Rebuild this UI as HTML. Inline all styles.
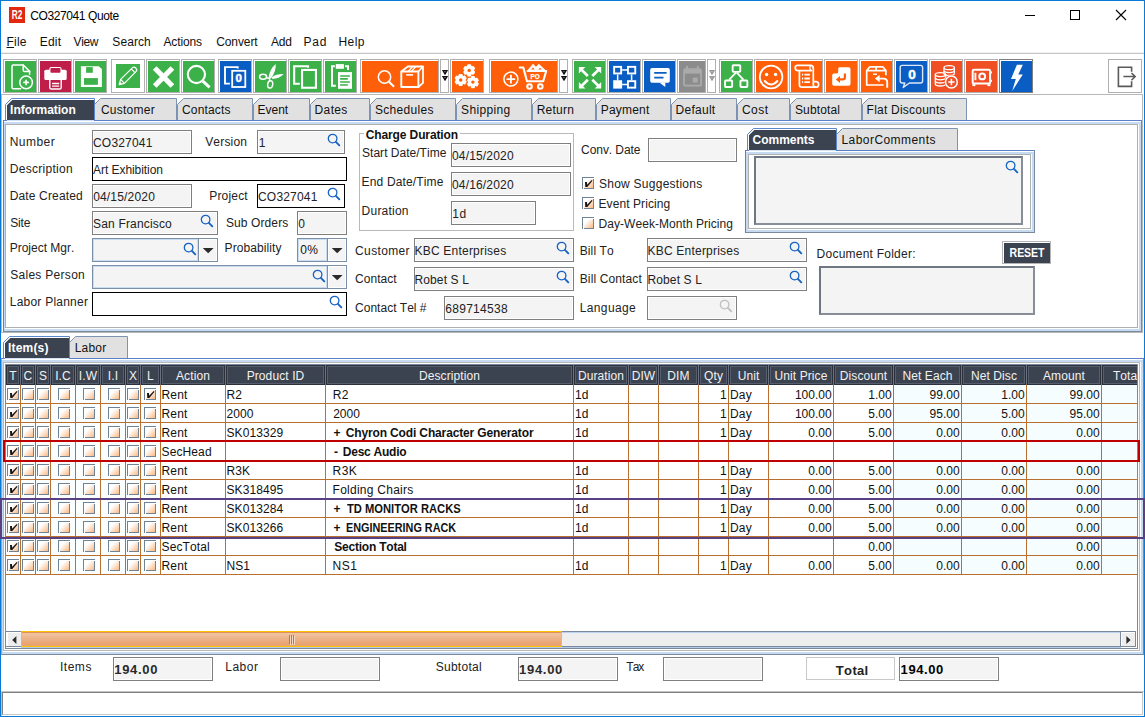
<!DOCTYPE html>
<html lang="en"><head><meta charset="utf-8"><title>CO327041 Quote</title>
<style>
html,body{margin:0;padding:0;background:#fff;}
body{width:1145px;height:717px;overflow:hidden;position:relative;font-family:"Liberation Sans",sans-serif;font-size:12px;color:#1a1a1a;font-kerning:none;}
#win{position:absolute;left:0;top:0;width:1145px;height:717px;overflow:hidden;background:#fff;}
.a{position:absolute;}
.t{position:absolute;white-space:nowrap;line-height:14px;font-size:12px;}
.b{font-weight:bold;}
.f{position:absolute;box-sizing:border-box;height:24px;border:1px solid #7f7f7f;background:#f4f4f4;box-shadow:inset 0 0 0 1px #fff;white-space:nowrap;overflow:hidden;font-size:12px;line-height:14px;color:#222;}
.f span{position:absolute;top:5px;line-height:14px;}
.f.k{border-color:#000;background:#fff;}
.f.c{border-color:#7a8fa8;box-shadow:inset 0 0 0 1px #c9dcf2;}
.f.c span{top:4px;}
.tb{position:absolute;top:59px;width:34px;height:34px;box-sizing:border-box;border:1px solid #b0b0b0;background:#fff;}
.tb i{font-style:normal;position:absolute;left:1px;top:1px;right:0;bottom:0;display:block;}
.tb svg{position:absolute;left:0;top:0;display:block;}
.dd{position:absolute;top:59px;width:9px;height:34px;box-sizing:border-box;border:1px solid #b0b0b0;background:#fff;}
.cb{position:absolute;width:12px;height:12px;box-sizing:border-box;border:0 solid #6f8396;border-top-width:1px;border-left-width:1px;background:linear-gradient(135deg,#ffffff 0%,#ffffff 30%,#fde2cc 56%,#ffab68 100%);box-shadow:inset 1px 1px 0 #fff,inset -1px -1px 0 #6f8396;}
.cb svg{position:absolute;left:-1px;top:-1px;}
.hd{position:absolute;top:0;height:20px;box-sizing:border-box;background:#3c4350;border:1px solid #2b303a;box-shadow:inset 0 0 0 1px #565e6e;color:#f2f2f2;text-align:center;font-size:12px;line-height:14px;padding-top:3px;white-space:nowrap;overflow:hidden;letter-spacing:0.1px;}
.c{position:absolute;white-space:nowrap;font-size:12px;line-height:14px;color:#111;}
</style></head>
<body>
<div id="win">
<div class="a" style="left:9px;top:7px;width:16px;height:16px;background:#e0290f;"></div>
<span class="t b" style="left:5px;top:8px;width:24px;text-align:center;color:#fff;font-size:13px;line-height:14px;transform:scaleX(0.64);">R2</span>
<span class="t" style="left:30.19px;top:9px;letter-spacing:-0.386px;color:#000;">CO327041 Quote</span>
<svg class="a" style="left:1015px;top:0" width="129" height="30" viewBox="0 0 129 30"><g stroke="#000" stroke-width="1" fill="none" shape-rendering="crispEdges"><path d="M10 15.5H20"/><rect x="55.5" y="10.5" width="9" height="9"/></g><path d="M101 10L111 20M111 10L101 20" stroke="#000" stroke-width="1.1" fill="none"/></svg>
<span class="t" style="left:6.52px;top:35px;letter-spacing:0.227px;color:#111;"><u>F</u>ile</span>
<span class="t" style="left:39.72px;top:35px;letter-spacing:0.198px;color:#111;">Edit</span>
<span class="t" style="left:73.55px;top:35px;letter-spacing:-0.362px;color:#111;">View</span>
<span class="t" style="left:112.36px;top:35px;letter-spacing:0.081px;color:#111;">Search</span>
<span class="t" style="left:163.48px;top:35px;letter-spacing:-0.116px;color:#111;">Actions</span>
<span class="t" style="left:216.19px;top:35px;letter-spacing:-0.087px;color:#111;">Convert</span>
<span class="t" style="left:271.08px;top:35px;letter-spacing:-0.277px;color:#111;">Add</span>
<span class="t" style="left:303.62px;top:35px;letter-spacing:0.753px;color:#111;">Pad</span>
<span class="t" style="left:338.52px;top:35px;letter-spacing:0.403px;color:#111;">Help</span>
<div class="a" style="left:1px;top:52px;width:1143px;height:1px;background:#f0f0f0;"></div>
<div class="a" style="left:1px;top:53px;width:1143px;height:1px;background:#c6c6c6;"></div>
<div class="tb" style="left:3px;width:34px;border-color:#b0b0b0"><i style="background:#3cb14a"><svg width="31" height="31" viewBox="0 0 31 31"><g fill="none" stroke="#fff" stroke-width="1.5" stroke-linejoin="round" stroke-linecap="round"><path d="M15.6 27.7H8.2Q7 27.7 7 26.5V5.2Q7 4 8.2 4H18.2L24.6 10.4V13.2"/><path d="M18.2 4V9.2Q18.2 10.4 19.4 10.4H24.6"/><circle cx="21.1" cy="21.4" r="6.3"/><path d="M18.9 21.4H23.3M21.1 19.2V23.6" stroke-width="1.6"/></g></svg></i></div>
<div class="tb" style="left:38px;width:34px;border-color:#b0b0b0"><i style="background:#bf1d4a"><svg width="31" height="31" viewBox="0 0 31 31"><rect x="4.3" y="8.7" width="22.4" height="10.3" rx="1.6" fill="#fff"/><rect x="9.9" y="6.5" width="11.1" height="5.9" rx="1.3" fill="#bf1d4a" stroke="#fff" stroke-width="1.1"/><path d="M9.8 19V26.4Q9.8 28 11.4 28H19.6Q21.2 28 21.2 26.4V19" fill="none" stroke="#fff" stroke-width="1.4"/><path d="M12.1 22.5H19.2M12.1 25.2H19.2" stroke="#fff" stroke-width="1.3"/></svg></i></div>
<div class="tb" style="left:73px;width:34px;border-color:#b0b0b0"><i style="background:#3cb14a"><svg width="31" height="31" viewBox="0 0 31 31"><path d="M5.9 5.2H23.6L26.9 8V26H5.9z" fill="#fff"/><rect x="11.1" y="6.1" width="6.7" height="5.7" fill="#3cb14a"/><rect x="9" y="17.1" width="13.9" height="6.7" fill="#3cb14a"/></svg></i></div>
<div class="tb" style="left:111px;width:34px;border-color:#b0b0b0"><i style="background:#fff"><svg width="31" height="31" viewBox="0 0 31 31"><rect x="3" y="3" width="24" height="24" fill="#3cb14a"/><g fill="none" stroke="#fff" stroke-width="1.2" stroke-linejoin="round"><path d="M6.2 23.6L7.6 18.4L19.6 6.6Q21.2 5.4 22.8 7Q24.4 8.6 23.2 10.4L11.4 22.4z"/><path d="M18.2 7.9L22 11.7"/><path d="M7.6 18.4L11.4 22.4"/></g><path d="M6.1 23.7L6.9 20.8L9 22.9z" fill="#fff"/></svg></i></div>
<div class="tb" style="left:146px;width:34px;border-color:#b0b0b0"><i style="background:#3cb14a"><svg width="31" height="31" viewBox="0 0 31 31"><g fill="none" stroke="#fff" stroke-width="5.2" ><path d="M6.7 7L24.4 25M24.4 7L6.7 25"/></g></svg></i></div>
<div class="tb" style="left:181px;width:34px;border-color:#b0b0b0"><i style="background:#3cb14a"><svg width="31" height="31" viewBox="0 0 31 31"><g fill="none" stroke="#fff" stroke-width="1.5" ><circle cx="13.4" cy="13.5" r="8.6" stroke-width="2.1"/><path d="M19.8 20.2L26.6 26.3" stroke-width="3"/></g></svg></i></div>
<div class="tb" style="left:218px;width:34px;border-color:#b0b0b0"><i style="background:#0a5dc2"><svg width="31" height="31" viewBox="0 0 31 31"><g fill="none" stroke="#fff" stroke-width="1.5" ><path d="M17.7 7.6V6.1H5V22.6H9.9" stroke-width="1.9"/><rect x="12.2" y="9.8" width="13.1" height="16.2" stroke-width="1.8"/></g><text x="18.8" y="21.4" font-family="Liberation Sans, sans-serif" font-size="11.5" font-weight="bold" text-anchor="middle" fill="#fff" stroke="#fff" stroke-width="0.5">0</text></svg></i></div>
<div class="tb" style="left:253px;width:34px;border-color:#b0b0b0"><i style="background:#3cb14a"><svg width="31" height="31" viewBox="0 0 31 31"><path d="M20.7 3Q21.4 9.5 16 17.6L13.5 16.8Q14.8 8 20.7 3z" fill="#fff"/><path d="M28.7 13Q24.2 17.8 17.4 18L16.9 16.2Q21 12.9 28.7 13z" fill="#fff"/><g fill="none" stroke="#fff" stroke-width="1.5" ><ellipse cx="8.1" cy="15.8" rx="3.5" ry="2.5"/><ellipse cx="15.2" cy="23.4" rx="2.5" ry="3.7" transform="rotate(8 15.2 23.4)"/><path d="M11.4 16.6L14.4 17.6L14.9 19.8"/></g></svg></i></div>
<div class="tb" style="left:288px;width:34px;border-color:#b0b0b0"><i style="background:#3cb14a"><svg width="31" height="31" viewBox="0 0 31 31"><g fill="none" stroke="#fff" stroke-width="2.1" ><path d="M18.05 6.8V5.25H4.15V22.75H9.8"/><rect x="12.05" y="8.95" width="13.9" height="17.8"/></g></svg></i></div>
<div class="tb" style="left:323px;width:34px;border-color:#b0b0b0"><i style="background:#3cb14a"><svg width="31" height="31" viewBox="0 0 31 31"><g fill="none" stroke="#fff" stroke-width="2" ><path d="M9.9 5.2H7V24.7H10.8"/><path d="M20 5.2H23V8.9"/></g><rect x="10.8" y="3.1" width="8.1" height="4.7" fill="#fff"/><rect x="13" y="11.1" width="14" height="16.7" fill="#fff"/><path d="M15.1 15H24.9M15.1 17.9H22.8M15.1 21H24.9M15.1 24H22.8" stroke="#3cb14a" stroke-width="1.7"/></svg></i></div>
<div class="tb" style="left:360px;width:79px;border-color:#b0b0b0"><i style="background:#ff5f09"><svg width="76" height="31" viewBox="0 0 76 31"><g fill="none" stroke="#fff" stroke-width="1.5" stroke-linejoin="round"><circle cx="22.5" cy="16" r="6.2" stroke-width="1.5"/><path d="M27 20.7L32 25.8" stroke-width="2.1"/><rect x="39.3" y="10.5" width="17.1" height="15.5" stroke-width="1.9"/><path d="M39.3 10.5L45.8 5.5H61L56.4 10.5M61 5.5V21.9L56.4 26" stroke-width="1.8"/><path d="M46.2 10.5L50.6 5.5M49.4 10.5L53.8 5.5" stroke-width="1.3"/><path d="M44.2 13.9H51.1" stroke-width="1.6"/></g></svg></i></div>
<div class="dd" style="left:440px"><svg class="a" style="left:0;top:10px" width="7" height="12" viewBox="0 0 7 12"><path d="M0.9 0h6.2L4.4 4.8H3.6zM0.9 6h6.2L4.4 10.8H3.6z" fill="#111"/><circle cx="3.9" cy="1.6" r="0.55" fill="#b0b0b0"/><circle cx="3.9" cy="7.6" r="0.55" fill="#b0b0b0"/></svg></div>
<div class="tb" style="left:450px;width:34px;border-color:#b0b0b0"><i style="background:#ff5f09"><svg width="31" height="31" viewBox="0 0 31 31"><rect x="15.2" y="3.3000000000000007" width="4" height="12.2" rx="1" transform="rotate(0 17.2 9.4)" fill="#fff"/><rect x="15.2" y="3.3000000000000007" width="4" height="12.2" rx="1" transform="rotate(60 17.2 9.4)" fill="#fff"/><rect x="15.2" y="3.3000000000000007" width="4" height="12.2" rx="1" transform="rotate(120 17.2 9.4)" fill="#fff"/><circle cx="17.2" cy="9.4" r="4.9" fill="#fff"/><circle cx="17.2" cy="9.4" r="1.7" fill="#ff5f09"/><rect x="6.699999999999999" y="12.9" width="4" height="12.2" rx="1" transform="rotate(0 8.7 19)" fill="#fff"/><rect x="6.699999999999999" y="12.9" width="4" height="12.2" rx="1" transform="rotate(60 8.7 19)" fill="#fff"/><rect x="6.699999999999999" y="12.9" width="4" height="12.2" rx="1" transform="rotate(120 8.7 19)" fill="#fff"/><circle cx="8.7" cy="19" r="4.9" fill="#fff"/><circle cx="8.7" cy="19" r="1.7" fill="#ff5f09"/><rect x="18.9" y="15.000000000000002" width="4" height="12.2" rx="1" transform="rotate(0 20.9 21.1)" fill="#fff"/><rect x="18.9" y="15.000000000000002" width="4" height="12.2" rx="1" transform="rotate(60 20.9 21.1)" fill="#fff"/><rect x="18.9" y="15.000000000000002" width="4" height="12.2" rx="1" transform="rotate(120 20.9 21.1)" fill="#fff"/><circle cx="20.9" cy="21.1" r="4.9" fill="#fff"/><circle cx="20.9" cy="21.1" r="1.7" fill="#ff5f09"/></svg></i></div>
<div class="tb" style="left:489px;width:69px;border-color:#b0b0b0"><i style="background:#ff5f09"><svg width="66" height="31" viewBox="0 0 66 31"><g fill="none" stroke="#fff" stroke-width="1.5" ><circle cx="19.9" cy="18.1" r="7" stroke-width="1.5"/><path d="M15.6 18.1H24.2M19.9 13.8V22.4" stroke-width="1.8"/><path d="M28.7 6.5H32.3L36 20.2H52.2L55.2 10H36.6" stroke-width="2.1" stroke-linejoin="round" stroke-linecap="round"/><circle cx="38.5" cy="25.5" r="2.25" stroke-width="2.1"/><circle cx="49.3" cy="25.5" r="2.25" stroke-width="2.1"/></g><path d="M36.8 9.4L42 3.2L45 6.2L47.8 3.2L54.4 9.4z" fill="#fff" stroke="#fff" stroke-width="0.8" stroke-linejoin="round"/><path d="M40.2 8.6L42 6.6L43.8 8.6zM47.3 8.6L49 6.8L50.7 8.6z" fill="#ff5f09"/><text x="44" y="17.9" font-family="Liberation Sans, sans-serif" font-size="6.3" font-weight="bold" text-anchor="middle" fill="#fff" stroke="#fff" stroke-width="0.25">PO</text></svg></i></div>
<div class="dd" style="left:559px"><svg class="a" style="left:0;top:10px" width="7" height="12" viewBox="0 0 7 12"><path d="M0.9 0h6.2L4.4 4.8H3.6zM0.9 6h6.2L4.4 10.8H3.6z" fill="#111"/><circle cx="3.9" cy="1.6" r="0.55" fill="#b0b0b0"/><circle cx="3.9" cy="7.6" r="0.55" fill="#b0b0b0"/></svg></div>
<div class="tb" style="left:572px;width:34px;border-color:#b0b0b0"><i style="background:#3cb14a"><svg width="31" height="31" viewBox="0 0 31 31"><path d="M4.9 6.1L11.4 6.1L4.9 12.6z" fill="#fff"/><path d="M6.9 8.1L13.8 15.0" stroke="#fff" stroke-width="2.7"/><path d="M27.2 6.1L20.7 6.1L27.2 12.6z" fill="#fff"/><path d="M25.2 8.1L18.299999999999997 15.0" stroke="#fff" stroke-width="2.7"/><path d="M4.9 27.6L11.4 27.6L4.9 21.1z" fill="#fff"/><path d="M6.9 25.6L13.8 18.700000000000003" stroke="#fff" stroke-width="2.7"/><path d="M27.2 27.6L20.7 27.6L27.2 21.1z" fill="#fff"/><path d="M25.2 25.6L18.299999999999997 18.700000000000003" stroke="#fff" stroke-width="2.7"/></svg></i></div>
<div class="tb" style="left:607px;width:34px;border-color:#b0b0b0"><i style="background:#0a5dc2"><svg width="31" height="31" viewBox="0 0 31 31"><g fill="none" stroke="#fff" stroke-width="1.9" ><rect x="5.15" y="5.85" width="7" height="6.6"/><rect x="18.95" y="5.85" width="7.3" height="6.6"/><rect x="18.95" y="20.15" width="7.3" height="6.5"/></g><rect x="4.2" y="19.2" width="8.9" height="8.4" fill="#fff"/><g fill="none" stroke="#fff" stroke-width="1.5" ><path d="M13.1 8.9H18M13.1 23.6H18M8.65 13.4V19.2M22.6 13.4V19.2"/></g></svg></i></div>
<div class="tb" style="left:642px;width:34px;border-color:#b0b0b0"><i style="background:#0a5dc2"><svg width="31" height="31" viewBox="0 0 31 31"><rect x="6.2" y="7.1" width="19.6" height="14.7" rx="1.8" fill="#fff"/><path d="M15.3 21.5L21.3 26V21.5z" fill="#fff"/><path d="M10.2 11.8H22.6M10.2 16.7H19.5" stroke="#0a5dc2" stroke-width="1.7"/></svg></i></div>
<div class="tb" style="left:677px;width:29px;border-color:#b0b0b0"><i style="background:#8c8c8c"><svg width="26" height="31" viewBox="0 0 26 31"><rect x="5" y="8.2" width="17.1" height="16.5" rx="1.8" fill="none" stroke="#aaaaaa" stroke-width="1.8"/><rect x="5" y="8.2" width="17.1" height="4.4" fill="#aaaaaa"/><path d="M8 4.9V8M18.8 4.9V8" stroke="#aaaaaa" stroke-width="1.8"/><rect x="13.7" y="16.6" width="5" height="4.9" fill="#aaaaaa"/></svg></i></div>
<div class="dd" style="left:707px"><svg class="a" style="left:0;top:10px" width="7" height="12" viewBox="0 0 7 12"><path d="M0.9 0h6.2L4.4 4.8H3.6zM0.9 6h6.2L4.4 10.8H3.6z" fill="#9a9a9a"/><circle cx="3.9" cy="1.6" r="0.55" fill="#cfcfcf"/><circle cx="3.9" cy="7.6" r="0.55" fill="#cfcfcf"/></svg></div>
<div class="tb" style="left:719px;width:34px;border-color:#b0b0b0"><i style="background:#3cb14a"><svg width="31" height="31" viewBox="0 0 31 31"><g fill="none" stroke="#fff" stroke-width="1.9" ><rect x="11.65" y="4.25" width="7.6" height="6.6" rx="0.8"/><rect x="4.05" y="19.45" width="7.1" height="6.6" rx="0.8"/><rect x="19.45" y="19.45" width="6.9" height="6.6" rx="0.8"/><path d="M15 11.6L8.2 18.7M15.8 11.6L22.4 18.7" stroke-width="1.7"/></g></svg></i></div>
<div class="tb" style="left:754px;width:34px;border-color:#b0b0b0"><i style="background:#ff5f09"><svg width="31" height="31" viewBox="0 0 31 31"><g fill="none" stroke="#fff" stroke-width="1.5" ><circle cx="15.1" cy="16" r="11.3" stroke-width="1.8"/><path d="M8.7 20Q15.1 27 21.4 20" stroke-width="1.9" stroke-linecap="round"/></g><circle cx="10.6" cy="13.5" r="1.7" fill="#fff"/><circle cx="19.6" cy="13.5" r="1.7" fill="#fff"/></svg></i></div>
<div class="tb" style="left:789px;width:34px;border-color:#b0b0b0"><i style="background:#ff5f09"><svg width="31" height="31" viewBox="0 0 31 31"><g fill="none" stroke="#fff" stroke-width="1.7" stroke-linejoin="round"><path d="M21 9.6H6.6Q4.2 9.6 4.2 6.6Q4.2 4.4 6.6 4.4H19.6Q22.3 4.4 22.3 7.4V20.6"/><path d="M8.4 9.8V23.8Q8.4 26.2 10.8 26.2H25"/><path d="M22.3 20.6H25.2Q27.6 20.9 27.6 23.4Q27.6 26.2 25 26.2Q22.3 26 22.3 23.4V20.6"/><path d="M13.4 13.6H18.9M13.4 17.5H18.9M13.4 21.2H18.9M11 13.6H12.2M11 17.5H12.2M11 21.2H12.2" stroke-width="1.8"/><path d="M19.6 4.4Q18 7 19.8 9.6" stroke-width="1.2"/></g></svg></i></div>
<div class="tb" style="left:824px;width:34px;border-color:#b0b0b0"><i style="background:#ff5f09"><svg width="31" height="31" viewBox="0 0 31 31"><path d="M13.8 6.2H22.7Q24.5 6.2 24.5 8V23Q24.5 24.8 22.7 24.8H8Q6.2 24.8 6.2 23V14.2Q6.2 12.6 7.8 12.6H10.6Q12.2 12.6 12.2 11V7.8Q12.2 6.2 13.8 6.2z" fill="#fff"/><path d="M18.9 12.4V16.2Q18.9 18.4 16.7 18.4H12.6" fill="none" stroke="#ff5f09" stroke-width="2.2"/><path d="M9.8 18.5L14 15V22z" fill="#ff5f09"/></svg></i></div>
<div class="tb" style="left:859px;width:34px;border-color:#b0b0b0"><i style="background:#ff5f09"><svg width="31" height="31" viewBox="0 0 31 31"><g fill="none" stroke="#fff" stroke-width="1.7" ><path d="M22.6 24H5.7V9.6L8.8 5.8H21.8L24.9 9.6V14.3M5.7 9.6H24.9M15.1 5.8V9.6" stroke-linejoin="round"/><path d="M12 13.2H16" stroke-width="1.4"/><path d="M17 17.6H22.6Q26.2 17.6 26.2 21.2V26.8" stroke-width="1.9"/></g><path d="M13.9 17.6L18.6 14V21.2z" fill="#fff"/></svg></i></div>
<div class="tb" style="left:894px;width:34px;border-color:#b0b0b0"><i style="background:#0a5dc2"><svg width="31" height="31" viewBox="0 0 31 31"><path d="M6.2 4.4H24.6Q26.6 4.4 26.6 6.4V20Q26.6 22 24.6 22H13.4L7.2 26.4L8.8 22H6.2Q4.2 22 4.2 20V6.4Q4.2 4.4 6.2 4.4z" fill="none" stroke="#dbe8f8" stroke-width="1.4" stroke-linejoin="round"/><text x="16.1" y="18.3" font-family="Liberation Sans, sans-serif" font-size="13.6" font-weight="bold" text-anchor="middle" fill="#fff" stroke="#fff" stroke-width="0.5">0</text></svg></i></div>
<div class="tb" style="left:929px;width:34px;border-color:#b0b0b0"><i style="background:#f04e23"><svg width="31" height="31" viewBox="0 0 31 31"><g fill="none" stroke="#fff" stroke-width="1.3" ><ellipse cx="18.2" cy="6.7" rx="5.2" ry="2.0"/><path d="M13.0 9.6A5.2 2.0 0 0 0 23.4 9.6"/><path d="M13.0 12.4A5.2 2.0 0 0 0 23.4 12.4"/><path d="M13.0 6.7V12.4M23.4 6.7V12.4"/><ellipse cx="9.5" cy="13.6" rx="5.2" ry="2.0"/><path d="M4.3 16.8A5.2 2.0 0 0 0 14.7 16.8"/><path d="M4.3 20A5.2 2.0 0 0 0 14.7 20"/><path d="M4.3 23A5.2 2.0 0 0 0 14.7 23"/><path d="M4.3 13.6V23M14.7 13.6V23"/></g><circle cx="20.4" cy="21" r="7" fill="#f04e23"/><g fill="none" stroke="#fff" stroke-width="1.5" ><circle cx="20.4" cy="21" r="5.9" stroke-width="1.5"/><path d="M17.2 21H23.6M20.4 17.8V24.2" stroke-width="1.6"/></g></svg></i></div>
<div class="tb" style="left:964px;width:34px;border-color:#b0b0b0"><i style="background:#f04e23"><svg width="31" height="31" viewBox="0 0 31 31"><g fill="none" stroke="#fff" stroke-width="1.5" ><rect x="6.7" y="8.8" width="17.4" height="13.8" rx="1.2" stroke-width="2"/><path d="M9.4 11.8V19.2" stroke-width="1.9"/><circle cx="16.2" cy="15.4" r="2.9" stroke-width="2"/></g><rect x="6.4" y="23.2" width="3" height="1.9" fill="#fff"/><rect x="21.4" y="23.2" width="3" height="1.9" fill="#fff"/><rect x="24.8" y="10.4" width="1.2" height="2" fill="#fff"/><rect x="24.8" y="18.8" width="1.2" height="2" fill="#fff"/></svg></i></div>
<div class="tb" style="left:999px;width:34px;border-color:#7f7f7f"><i style="background:#0a5dc2"><svg width="31" height="31" viewBox="0 0 31 31"><path d="M15.9 3.7H21.8L17.3 13.6H21.8L11.2 30L14.8 18H10z" fill="#fff"/></svg></i></div>
<div class="tb" style="left:1108px;width:34px;border-color:#b0b0b0"><i style="background:#fff"><svg width="31" height="31" viewBox="0 0 31 31"><g fill="none" stroke="#5a5a5a" stroke-width="1.6"><path d="M21.6 10.8V6.3H8.4V25.4H21.6V20.3"/><path d="M13.4 15.6H25M21.5 12L25.2 15.6L21.5 19.2" stroke-width="1.5"/></g></svg></i></div>
<div class="a" style="left:1px;top:94px;width:1142px;height:239px;box-sizing:border-box;border:1px solid #b8b8b8;"></div>
<svg class="a" style="left:0px;top:98px" width="1000" height="23" viewBox="0 0 1000 23"><path d="M94.5 22V6.5L100.5 0.5H176.5V22" fill="#e1e1e1" stroke="#7d93b3" stroke-width="1"/><path d="M177.5 22V6.5L183.5 0.5H252.5V22" fill="#e1e1e1" stroke="#7d93b3" stroke-width="1"/><path d="M253.5 22V6.5L259.5 0.5H309.5V22" fill="#e1e1e1" stroke="#7d93b3" stroke-width="1"/><path d="M310.5 22V6.5L316.5 0.5H369.5V22" fill="#e1e1e1" stroke="#7d93b3" stroke-width="1"/><path d="M370.5 22V6.5L376.5 0.5H455.5V22" fill="#e1e1e1" stroke="#7d93b3" stroke-width="1"/><path d="M456.5 22V6.5L462.5 0.5H531.5V22" fill="#e1e1e1" stroke="#7d93b3" stroke-width="1"/><path d="M532.5 22V6.5L538.5 0.5H595.5V22" fill="#e1e1e1" stroke="#7d93b3" stroke-width="1"/><path d="M596.5 22V6.5L602.5 0.5H670.5V22" fill="#e1e1e1" stroke="#7d93b3" stroke-width="1"/><path d="M671.5 22V6.5L677.5 0.5H736.5V22" fill="#e1e1e1" stroke="#7d93b3" stroke-width="1"/><path d="M737.5 22V6.5L743.5 0.5H789.5V22" fill="#e1e1e1" stroke="#7d93b3" stroke-width="1"/><path d="M790.5 22V6.5L796.5 0.5H861.5V22" fill="#e1e1e1" stroke="#7d93b3" stroke-width="1"/><path d="M862.5 22V6.5L868.5 0.5H966.5V22" fill="#e1e1e1" stroke="#7d93b3" stroke-width="1"/><path d="M5.5 22V6.5L11.5 0.5H94.5V22" fill="#fff" stroke="#5b85cf" stroke-width="1"/><path d="M7 22V7.3L12.3 2H94V22z" fill="#3c4350"/></svg>
<span class="t b" style="left:10.1px;top:103px;letter-spacing:-0.035px;color:#fff;">Information</span>
<span class="t" style="left:100.89px;top:103px;letter-spacing:0.256px;color:#111;">Customer</span>
<span class="t" style="left:181.99px;top:103px;letter-spacing:0.155px;color:#111;">Contacts</span>
<span class="t" style="left:257.62px;top:103px;letter-spacing:-0.053px;color:#111;">Event</span>
<span class="t" style="left:314.62px;top:103px;letter-spacing:0.343px;color:#111;">Dates</span>
<span class="t" style="left:374.96px;top:103px;letter-spacing:0.305px;color:#111;">Schedules</span>
<span class="t" style="left:461.06px;top:103px;letter-spacing:0.33px;color:#111;">Shipping</span>
<span class="t" style="left:536.72px;top:103px;letter-spacing:0.229px;color:#111;">Return</span>
<span class="t" style="left:600.82px;top:103px;letter-spacing:0.186px;color:#111;">Payment</span>
<span class="t" style="left:675.62px;top:103px;letter-spacing:0.258px;color:#111;">Default</span>
<span class="t" style="left:741.99px;top:103px;letter-spacing:0.474px;color:#111;">Cost</span>
<span class="t" style="left:794.96px;top:103px;letter-spacing:0.145px;color:#111;">Subtotal</span>
<span class="t" style="left:866.62px;top:103px;letter-spacing:0.223px;color:#111;">Flat Discounts</span>
<div class="a" style="left:3px;top:120px;width:1139px;height:212px;box-sizing:border-box;border:1px solid #5b7fc8;border-right-color:#7a8a9c;border-bottom-color:#7a8a9c;background:#c6dbf1;box-shadow:inset 0 1px 0 #fff;"></div>
<div class="a" style="left:5px;top:124px;width:1134px;height:205px;background:#fff;"></div>
<div class="a" style="left:5px;top:124px;width:1133px;height:204px;box-sizing:border-box;border:1px solid #b0b0b0;background:#fff;"></div>
<div class="a" style="left:7px;top:120px;width:87px;height:1px;background:#cfe3f8;"></div>
<span class="t" style="left:9.72px;top:135px;letter-spacing:0.461px;color:#222;">Number</span>
<span class="t" style="left:9.72px;top:162px;letter-spacing:0.294px;color:#222;">Description</span>
<span class="t" style="left:9.72px;top:189px;letter-spacing:0.144px;color:#222;">Date Created</span>
<span class="t" style="left:10.16px;top:216px;letter-spacing:-0.167px;color:#222;">Site</span>
<span class="t" style="left:9.72px;top:241px;letter-spacing:-0.009px;color:#222;">Project Mgr.</span>
<span class="t" style="left:10.16px;top:268px;letter-spacing:0.296px;color:#222;">Sales Person</span>
<span class="t" style="left:9.72px;top:295px;letter-spacing:0.233px;color:#222;">Labor Planner</span>
<span class="t" style="left:205.15px;top:135px;letter-spacing:0.191px;color:#222;">Version</span>
<span class="t" style="left:209.22px;top:189px;letter-spacing:0.187px;color:#222;">Project</span>
<span class="t" style="left:225.96px;top:216px;letter-spacing:0.102px;color:#222;">Sub Orders</span>
<span class="t" style="left:224.62px;top:241px;letter-spacing:0.088px;color:#222;">Probability</span>
<span class="t" style="left:362.06px;top:146px;letter-spacing:0.018px;color:#222;">Start Date/Time</span>
<span class="t" style="left:361.62px;top:175px;letter-spacing:0.149px;color:#222;">End Date/Time</span>
<span class="t" style="left:361.62px;top:204px;letter-spacing:0.215px;color:#222;">Duration</span>
<span class="t" style="left:355.09px;top:244px;letter-spacing:0.356px;color:#222;">Customer</span>
<span class="t" style="left:355.09px;top:272px;letter-spacing:0.04px;color:#222;">Contact</span>
<span class="t" style="left:355.09px;top:301px;letter-spacing:0.008px;color:#222;">Contact Tel #</span>
<span class="t" style="left:581.09px;top:143px;letter-spacing:-0.065px;color:#222;">Conv. Date</span>
<span class="t" style="left:579.72px;top:244px;letter-spacing:0.108px;color:#222;">Bill To</span>
<span class="t" style="left:579.72px;top:272px;letter-spacing:0.126px;color:#222;">Bill Contact</span>
<span class="t" style="left:579.72px;top:301px;letter-spacing:0.375px;color:#222;">Language</span>
<span class="t" style="left:598.96px;top:177px;letter-spacing:0.259px;color:#222;">Show Suggestions</span>
<span class="t" style="left:598.52px;top:197px;letter-spacing:0.08px;color:#222;">Event Pricing</span>
<span class="t" style="left:598.52px;top:217px;letter-spacing:0.052px;color:#222;">Day-Week-Month Pricing</span>
<span class="t" style="left:816.62px;top:247px;letter-spacing:0.234px;color:#222;">Document Folder:</span>
<div class="f" style="left:92px;top:130px;width:100px;height:24px;"><span style="left:-0.01px;letter-spacing:0.193px;">CO327041</span></div>
<div class="f" style="left:257px;top:130px;width:88px;height:24px;"><span style="left:0.79px;letter-spacing:0px;">1</span><svg class="a" style="right:3px;top:2px" width="14" height="14" viewBox="0 0 14 14"><circle cx="5.6" cy="5.6" r="4.3" fill="none" stroke="#1763c4" stroke-width="1.3"/><path d="M8.9 8.9L12.3 12.3" stroke="#1763c4" stroke-width="1.9" stroke-linecap="round"/></svg></div>
<div class="f k" style="left:92px;top:157px;width:255px;height:24px;"><span style="left:0.08px;letter-spacing:-0.061px;">Art Exhibition</span></div>
<div class="f" style="left:92px;top:184px;width:100px;height:24px;"><span style="left:0.13px;letter-spacing:0.187px;">04/15/2020</span></div>
<div class="f k" style="left:257px;top:184px;width:88px;height:24px;"><span style="left:-0.01px;letter-spacing:0.193px;">CO327041</span><svg class="a" style="right:3px;top:2px" width="14" height="14" viewBox="0 0 14 14"><circle cx="5.6" cy="5.6" r="4.3" fill="none" stroke="#1763c4" stroke-width="1.3"/><path d="M8.9 8.9L12.3 12.3" stroke="#1763c4" stroke-width="1.9" stroke-linecap="round"/></svg></div>
<div class="f" style="left:92px;top:211px;width:126px;height:24px;"><span style="left:0.06px;letter-spacing:0.171px;">San Francisco</span><svg class="a" style="right:3px;top:2px" width="14" height="14" viewBox="0 0 14 14"><circle cx="5.6" cy="5.6" r="4.3" fill="none" stroke="#1763c4" stroke-width="1.3"/><path d="M8.9 8.9L12.3 12.3" stroke="#1763c4" stroke-width="1.9" stroke-linecap="round"/></svg></div>
<div class="f" style="left:297px;top:211px;width:50px;height:24px;"><span style="left:0.33px;letter-spacing:0px;">0</span></div>
<div class="f c" style="left:92px;top:238px;width:107px;height:24px;"><svg class="a" style="right:1px;top:3px" width="14" height="14" viewBox="0 0 14 14"><circle cx="5.6" cy="5.6" r="4.3" fill="none" stroke="#1763c4" stroke-width="1.3"/><path d="M8.9 8.9L12.3 12.3" stroke="#1763c4" stroke-width="1.9" stroke-linecap="round"/></svg></div>
<div class="f" style="left:198px;top:238px;width:20px;padding:0;border-color:#7a8fa8;background:#f4f4f4"><svg class="a" style="left:4px;top:9px" width="11" height="6" viewBox="0 0 11 6"><path d="M-0.2 0h10.8L5.2 5.3z" fill="#2a2a2a"/></svg></div>
<div class="f c" style="left:297px;top:238px;width:31px;height:24px;"><span style="left:2.23px;letter-spacing:0.253px;">0%</span></div>
<div class="f" style="left:327px;top:238px;width:20px;padding:0;border-color:#7a8fa8;background:#f4f4f4"><svg class="a" style="left:4px;top:9px" width="11" height="6" viewBox="0 0 11 6"><path d="M-0.2 0h10.8L5.2 5.3z" fill="#2a2a2a"/></svg></div>
<div class="f c" style="left:92px;top:265px;width:236px;height:24px;"><svg class="a" style="right:1px;top:3px" width="14" height="14" viewBox="0 0 14 14"><circle cx="5.6" cy="5.6" r="4.3" fill="none" stroke="#1763c4" stroke-width="1.3"/><path d="M8.9 8.9L12.3 12.3" stroke="#1763c4" stroke-width="1.9" stroke-linecap="round"/></svg></div>
<div class="f" style="left:327px;top:265px;width:20px;padding:0;border-color:#7a8fa8;background:#f4f4f4"><svg class="a" style="left:4px;top:9px" width="11" height="6" viewBox="0 0 11 6"><path d="M-0.2 0h10.8L5.2 5.3z" fill="#2a2a2a"/></svg></div>
<div class="f k" style="left:92px;top:292px;width:255px;height:24px;"><svg class="a" style="right:3px;top:2px" width="14" height="14" viewBox="0 0 14 14"><circle cx="5.6" cy="5.6" r="4.3" fill="none" stroke="#1763c4" stroke-width="1.3"/><path d="M8.9 8.9L12.3 12.3" stroke="#1763c4" stroke-width="1.9" stroke-linecap="round"/></svg></div>
<div class="a" style="left:359px;top:133px;width:215px;height:98px;box-sizing:border-box;border:1px solid #b9b9b9;"></div>
<div class="a" style="left:364px;top:130px;width:96px;height:8px;background:#fff;"></div>
<span class="t b" style="left:365.71px;top:128px;letter-spacing:-0.112px;color:#111;">Charge Duration</span>
<div class="f" style="left:451px;top:143px;width:120px;height:24px;"><span style="left:0.03px;letter-spacing:0.164px;">04/15/2020</span></div>
<div class="f" style="left:451px;top:172px;width:120px;height:24px;"><span style="left:0.03px;letter-spacing:0.164px;">04/16/2020</span></div>
<div class="f" style="left:451px;top:201px;width:85px;height:24px;"><span style="left:0.29px;letter-spacing:0.44px;">1d</span></div>
<div class="f" style="left:414px;top:238px;width:160px;height:24px;"><span style="left:-0.58px;letter-spacing:0.223px;">KBC Enterprises</span><svg class="a" style="right:3px;top:2px" width="14" height="14" viewBox="0 0 14 14"><circle cx="5.6" cy="5.6" r="4.3" fill="none" stroke="#1763c4" stroke-width="1.3"/><path d="M8.9 8.9L12.3 12.3" stroke="#1763c4" stroke-width="1.9" stroke-linecap="round"/></svg></div>
<div class="f" style="left:414px;top:267px;width:160px;height:24px;"><span style="left:-0.58px;letter-spacing:0.139px;">Robet S L</span><svg class="a" style="right:3px;top:2px" width="14" height="14" viewBox="0 0 14 14"><circle cx="5.6" cy="5.6" r="4.3" fill="none" stroke="#1763c4" stroke-width="1.3"/><path d="M8.9 8.9L12.3 12.3" stroke="#1763c4" stroke-width="1.9" stroke-linecap="round"/></svg></div>
<div class="f" style="left:444px;top:296px;width:130px;height:24px;"><span style="left:0.19px;letter-spacing:0.308px;">689714538</span></div>
<div class="f" style="left:648px;top:138px;width:89px;height:24px;"></div>
<div class="f" style="left:647px;top:238px;width:160px;height:24px;"><span style="left:-0.58px;letter-spacing:0.223px;">KBC Enterprises</span><svg class="a" style="right:3px;top:2px" width="14" height="14" viewBox="0 0 14 14"><circle cx="5.6" cy="5.6" r="4.3" fill="none" stroke="#1763c4" stroke-width="1.3"/><path d="M8.9 8.9L12.3 12.3" stroke="#1763c4" stroke-width="1.9" stroke-linecap="round"/></svg></div>
<div class="f" style="left:647px;top:267px;width:160px;height:24px;"><span style="left:-0.58px;letter-spacing:0.139px;">Robet S L</span><svg class="a" style="right:3px;top:2px" width="14" height="14" viewBox="0 0 14 14"><circle cx="5.6" cy="5.6" r="4.3" fill="none" stroke="#1763c4" stroke-width="1.3"/><path d="M8.9 8.9L12.3 12.3" stroke="#1763c4" stroke-width="1.9" stroke-linecap="round"/></svg></div>
<div class="f" style="left:647px;top:296px;width:90px;height:24px;"><svg class="a" style="right:3px;top:2px" width="14" height="14" viewBox="0 0 14 14"><circle cx="5.6" cy="5.6" r="4.3" fill="none" stroke="#c0c0c0" stroke-width="1.3"/><path d="M8.9 8.9L12.3 12.3" stroke="#c0c0c0" stroke-width="1.9" stroke-linecap="round"/></svg></div>
<div class="cb" style="left:582px;top:177px"><svg width="12" height="12" viewBox="0 0 12 12"><path d="M3.0 5.0L4.9 5.0L5.2 7.8L9.7 2.9L10.5 3.7L5.3 10.1L3.3 10.1z" fill="#141414"/></svg></div>
<div class="cb" style="left:582px;top:197px"><svg width="12" height="12" viewBox="0 0 12 12"><path d="M3.0 5.0L4.9 5.0L5.2 7.8L9.7 2.9L10.5 3.7L5.3 10.1L3.3 10.1z" fill="#141414"/></svg></div>
<div class="cb" style="left:582px;top:217px"></div>
<svg class="a" style="left:745px;top:128px" width="220" height="23" viewBox="0 0 220 23"><path d="M91.5 22V6.5L97.5 0.5H212.5V22" fill="#e1e1e1" stroke="#7d93b3" stroke-width="1"/><path d="M2.5 22V6.5L8.5 0.5H91.5V22" fill="#fff" stroke="#5b85cf" stroke-width="1"/><path d="M4 22V7.3L9.3 2H91V22z" fill="#3c4350"/></svg>
<span class="t b" style="left:752.51px;top:133px;letter-spacing:-0.004px;color:#fff;">Comments</span>
<span class="t" style="left:841.52px;top:133px;letter-spacing:0.434px;color:#111;">LaborComments</span>
<div class="a" style="left:745px;top:150px;width:290px;height:83px;box-sizing:border-box;border:1px solid #5b7fc8;border-right-color:#7a8a9c;border-bottom-color:#7a8a9c;background:#c6dbf1;box-shadow:inset 0 1px 0 #fff;"></div>
<div class="a" style="left:748px;top:154px;width:284px;height:76px;background:#fff;"></div>
<div class="a" style="left:748px;top:154px;width:283px;height:75px;box-sizing:border-box;border:1px solid #b0b0b0;background:#fff;"></div>
<div class="a" style="left:749px;top:150px;width:87px;height:1px;background:#cfe3f8;"></div>
<div class="a" style="left:754px;top:156px;width:269px;height:69px;box-sizing:border-box;border:2px solid #6f7782;border-right-color:#878e98;border-bottom-color:#878e98;background:#f4f4f4;"><svg class="a" style="right:2px;top:2px" width="14" height="14" viewBox="0 0 14 14"><circle cx="5.6" cy="5.6" r="4.3" fill="none" stroke="#1763c4" stroke-width="1.3"/><path d="M8.9 8.9L12.3 12.3" stroke="#1763c4" stroke-width="1.9" stroke-linecap="round"/></svg></div>
<div class="a" style="left:1002px;top:241px;width:49px;height:23px;box-sizing:border-box;border:1px solid #b4b4b4;background:#fff;"></div>
<div class="a" style="left:1004px;top:243px;width:46px;height:20px;background:#3c4350;"></div>
<span class="t b" style="left:1004px;top:246px;width:46px;text-align:center;color:#fff;font-size:12px;transform:scaleX(0.88);letter-spacing:-0.1px;">RESET</span>
<div class="a" style="left:819px;top:266px;width:216px;height:49px;box-sizing:border-box;border:2px solid #6f7782;border-right-color:#878e98;border-bottom-color:#878e98;background:#f4f4f4;"></div>
<svg class="a" style="left:0px;top:336px" width="140" height="23" viewBox="0 0 140 23"><path d="M69.5 22V6.5L75.5 0.5H127.5V22" fill="#e1e1e1" stroke="#7d93b3" stroke-width="1"/><path d="M3.5 22V6.5L9.5 0.5H69.5V22" fill="#fff" stroke="#5b85cf" stroke-width="1"/><path d="M5 22V7.3L10.3 2H69V22z" fill="#3c4350"/></svg>
<span class="t b" style="left:8.1px;top:341px;letter-spacing:0.16px;color:#fff;">Item(s)</span>
<span class="t" style="left:74.72px;top:341px;letter-spacing:0.198px;color:#111;">Labor</span>
<div class="a" style="left:1px;top:358px;width:1143px;height:297px;box-sizing:border-box;border:1px solid #5b7fc8;border-left-color:#7fa6e0;border-right-color:#7a8a9c;border-bottom-color:#7a8a9c;background:#c6dbf1;box-shadow:inset 0 1px 0 #fff;"></div>
<div class="a" style="left:3px;top:362px;width:1138px;height:290px;background:#fff;"></div>
<div class="a" style="left:3px;top:362px;width:1137px;height:289px;box-sizing:border-box;border:1px solid #b8b8b8;background:#fff;"></div>
<div class="a" style="left:5px;top:364px;width:1133px;height:285px;box-sizing:border-box;border:1px solid #7a8a9c;background:#fff;"></div>
<div class="a" style="left:5px;top:358px;width:64px;height:1px;background:#cfe3f8;"></div>
<div class="a" id="tbl" style="left:6px;top:365px;width:1131px;height:266px;overflow:hidden;">
<div class="a" style="left:0;top:0;width:1131px;height:20px;background:#6a7282;"></div>
<div class="a" style="left:0;top:20px;width:1131px;height:190px;background:#ffffff;"></div>
<div class="a" style="left:15px;top:20px;width:140px;height:190px;background:#fafeff;"></div>
<div class="a" style="left:888px;top:20px;width:243px;height:190px;background:#f6fdff;"></div>
<div class="hd" style="left:0px;width:14px">T</div>
<div class="a" style="left:14px;top:20px;width:1px;height:190px;background:#b9702f;"></div>
<div class="hd" style="left:15px;width:14px">C</div>
<div class="a" style="left:29px;top:20px;width:1px;height:190px;background:#b9702f;"></div>
<div class="hd" style="left:30px;width:14px">S</div>
<div class="a" style="left:44px;top:20px;width:1px;height:190px;background:#b9702f;"></div>
<div class="hd" style="left:45px;width:24px">I.C</div>
<div class="a" style="left:69px;top:20px;width:1px;height:190px;background:#b9702f;"></div>
<div class="hd" style="left:70px;width:24px">I.W</div>
<div class="a" style="left:94px;top:20px;width:1px;height:190px;background:#b9702f;"></div>
<div class="hd" style="left:95px;width:24px">I.I</div>
<div class="a" style="left:119px;top:20px;width:1px;height:190px;background:#b9702f;"></div>
<div class="hd" style="left:120px;width:14px">X</div>
<div class="a" style="left:134px;top:20px;width:1px;height:190px;background:#b9702f;"></div>
<div class="hd" style="left:135px;width:19px">L</div>
<div class="a" style="left:154px;top:20px;width:1px;height:190px;background:#b9702f;"></div>
<div class="hd" style="left:155px;width:64px">Action</div>
<div class="a" style="left:219px;top:20px;width:1px;height:190px;background:#b9702f;"></div>
<div class="hd" style="left:220px;width:99px">Product ID</div>
<div class="a" style="left:319px;top:20px;width:1px;height:190px;background:#b9702f;"></div>
<div class="hd" style="left:320px;width:247px">Description</div>
<div class="a" style="left:567px;top:20px;width:1px;height:190px;background:#b9702f;"></div>
<div class="hd" style="left:568px;width:54px">Duration</div>
<div class="a" style="left:622px;top:20px;width:1px;height:190px;background:#b9702f;"></div>
<div class="hd" style="left:623px;width:29px">DIW</div>
<div class="a" style="left:652px;top:20px;width:1px;height:190px;background:#b9702f;"></div>
<div class="hd" style="left:653px;width:39px">DIM</div>
<div class="a" style="left:692px;top:20px;width:1px;height:190px;background:#b9702f;"></div>
<div class="hd" style="left:693px;width:29px">Qty</div>
<div class="a" style="left:722px;top:20px;width:1px;height:190px;background:#b9702f;"></div>
<div class="hd" style="left:723px;width:39px">Unit</div>
<div class="a" style="left:762px;top:20px;width:1px;height:190px;background:#b9702f;"></div>
<div class="hd" style="left:763px;width:64px">Unit Price</div>
<div class="a" style="left:827px;top:20px;width:1px;height:190px;background:#b9702f;"></div>
<div class="hd" style="left:828px;width:59px">Discount</div>
<div class="a" style="left:887px;top:20px;width:1px;height:190px;background:#b9702f;"></div>
<div class="hd" style="left:888px;width:67px">Net Each</div>
<div class="a" style="left:955px;top:20px;width:1px;height:190px;background:#b9702f;"></div>
<div class="hd" style="left:956px;width:64px">Net Disc</div>
<div class="a" style="left:1020px;top:20px;width:1px;height:190px;background:#b9702f;"></div>
<div class="hd" style="left:1021px;width:74px">Amount</div>
<div class="a" style="left:1095px;top:20px;width:1px;height:190px;background:#b9702f;"></div>
<div class="hd" style="left:1096px;width:49px">Total</div>
<div class="a" style="left:1145px;top:20px;width:1px;height:190px;background:#b9702f;"></div>
<div class="a" style="left:0;top:38px;width:1131px;height:1px;background:#b9702f;"></div>
<div class="cb" style="left:1px;top:23px"><svg width="12" height="12" viewBox="0 0 12 12"><path d="M3.0 5.0L4.9 5.0L5.2 7.8L9.7 2.9L10.5 3.7L5.3 10.1L3.3 10.1z" fill="#141414"/></svg></div>
<div class="cb" style="left:16px;top:23px"></div>
<div class="cb" style="left:31px;top:23px"></div>
<div class="cb" style="left:52px;top:23px"></div>
<div class="cb" style="left:77px;top:23px"></div>
<div class="cb" style="left:102px;top:23px"></div>
<div class="cb" style="left:121px;top:23px"></div>
<div class="cb" style="left:138px;top:23px"><svg width="12" height="12" viewBox="0 0 12 12"><path d="M3.0 5.0L4.9 5.0L5.2 7.8L9.7 2.9L10.5 3.7L5.3 10.1L3.3 10.1z" fill="#141414"/></svg></div>
<span class="c" style="left:155.6px;top:23px;letter-spacing:0.1px;">Rent</span>
<span class="c" style="left:220.5px;top:23px;letter-spacing:0.1px;">R2</span>
<span class="c" style="left:326.82px;top:23px;letter-spacing:0.248px;">R2</span>
<span class="c" style="left:569.0px;top:23px;letter-spacing:0.2px;">1d</span>
<span class="c" style="left:693px;width:27.6px;text-align:right;top:23px;">1</span>
<span class="c" style="left:724.0px;top:23px;letter-spacing:0.2px;">Day</span>
<span class="c" style="left:763px;width:62.6px;text-align:right;top:23px;">100.00</span>
<span class="c" style="left:828px;width:57.6px;text-align:right;top:23px;">1.00</span>
<span class="c" style="left:888px;width:65.6px;text-align:right;top:23px;">99.00</span>
<span class="c" style="left:956px;width:62.6px;text-align:right;top:23px;">1.00</span>
<span class="c" style="left:1021px;width:72.6px;text-align:right;top:23px;">99.00</span>
<div class="a" style="left:0;top:57px;width:1131px;height:1px;background:#b9702f;"></div>
<div class="cb" style="left:1px;top:42px"><svg width="12" height="12" viewBox="0 0 12 12"><path d="M3.0 5.0L4.9 5.0L5.2 7.8L9.7 2.9L10.5 3.7L5.3 10.1L3.3 10.1z" fill="#141414"/></svg></div>
<div class="cb" style="left:16px;top:42px"></div>
<div class="cb" style="left:31px;top:42px"></div>
<div class="cb" style="left:52px;top:42px"></div>
<div class="cb" style="left:77px;top:42px"></div>
<div class="cb" style="left:102px;top:42px"></div>
<div class="cb" style="left:121px;top:42px"></div>
<div class="cb" style="left:138px;top:42px"></div>
<span class="c" style="left:155.6px;top:42px;letter-spacing:0.1px;">Rent</span>
<span class="c" style="left:220.5px;top:42px;letter-spacing:0.1px;">2000</span>
<span class="c" style="left:327.2px;top:42px;letter-spacing:-0.008px;">2000</span>
<span class="c" style="left:569.0px;top:42px;letter-spacing:0.2px;">1d</span>
<span class="c" style="left:693px;width:27.6px;text-align:right;top:42px;">1</span>
<span class="c" style="left:724.0px;top:42px;letter-spacing:0.2px;">Day</span>
<span class="c" style="left:763px;width:62.6px;text-align:right;top:42px;">100.00</span>
<span class="c" style="left:828px;width:57.6px;text-align:right;top:42px;">5.00</span>
<span class="c" style="left:888px;width:65.6px;text-align:right;top:42px;">95.00</span>
<span class="c" style="left:956px;width:62.6px;text-align:right;top:42px;">5.00</span>
<span class="c" style="left:1021px;width:72.6px;text-align:right;top:42px;">95.00</span>
<div class="a" style="left:0;top:76px;width:1131px;height:1px;background:#b9702f;"></div>
<div class="cb" style="left:1px;top:61px"><svg width="12" height="12" viewBox="0 0 12 12"><path d="M3.0 5.0L4.9 5.0L5.2 7.8L9.7 2.9L10.5 3.7L5.3 10.1L3.3 10.1z" fill="#141414"/></svg></div>
<div class="cb" style="left:16px;top:61px"></div>
<div class="cb" style="left:31px;top:61px"></div>
<div class="cb" style="left:52px;top:61px"></div>
<div class="cb" style="left:77px;top:61px"></div>
<div class="cb" style="left:102px;top:61px"></div>
<div class="cb" style="left:121px;top:61px"></div>
<div class="cb" style="left:138px;top:61px"></div>
<span class="c" style="left:155.6px;top:61px;letter-spacing:0.1px;">Rent</span>
<span class="c" style="left:220.5px;top:61px;letter-spacing:0.1px;">SK013329</span>
<span class="c" style="left:339.71px;top:61px;letter-spacing:-0.139px;font-weight:bold;">Chyron Codi Character Generator</span>
<span class="c" style="left:327.4px;top:61px;font-weight:bold;">+</span>
<span class="c" style="left:569.0px;top:61px;letter-spacing:0.2px;">1d</span>
<span class="c" style="left:693px;width:27.6px;text-align:right;top:61px;">1</span>
<span class="c" style="left:724.0px;top:61px;letter-spacing:0.2px;">Day</span>
<span class="c" style="left:763px;width:62.6px;text-align:right;top:61px;">0.00</span>
<span class="c" style="left:828px;width:57.6px;text-align:right;top:61px;">5.00</span>
<span class="c" style="left:888px;width:65.6px;text-align:right;top:61px;">0.00</span>
<span class="c" style="left:956px;width:62.6px;text-align:right;top:61px;">0.00</span>
<span class="c" style="left:1021px;width:72.6px;text-align:right;top:61px;">0.00</span>
<div class="a" style="left:0;top:95px;width:1131px;height:1px;background:#b9702f;"></div>
<div class="cb" style="left:1px;top:80px"><svg width="12" height="12" viewBox="0 0 12 12"><path d="M3.0 5.0L4.9 5.0L5.2 7.8L9.7 2.9L10.5 3.7L5.3 10.1L3.3 10.1z" fill="#141414"/></svg></div>
<div class="cb" style="left:16px;top:80px"></div>
<div class="cb" style="left:31px;top:80px"></div>
<div class="cb" style="left:52px;top:80px"></div>
<div class="cb" style="left:77px;top:80px"></div>
<div class="cb" style="left:102px;top:80px"></div>
<div class="cb" style="left:121px;top:80px"></div>
<div class="cb" style="left:138px;top:80px"></div>
<span class="c" style="left:155.6px;top:80px;letter-spacing:0.1px;">SecHead</span>
<span class="c" style="left:336.8px;top:80px;letter-spacing:-0.249px;font-weight:bold;">Desc Audio</span>
<span class="c" style="left:328.0px;top:80px;font-weight:bold;">-</span>
<div class="a" style="left:0;top:114px;width:1131px;height:1px;background:#b9702f;"></div>
<div class="cb" style="left:1px;top:99px"><svg width="12" height="12" viewBox="0 0 12 12"><path d="M3.0 5.0L4.9 5.0L5.2 7.8L9.7 2.9L10.5 3.7L5.3 10.1L3.3 10.1z" fill="#141414"/></svg></div>
<div class="cb" style="left:16px;top:99px"></div>
<div class="cb" style="left:31px;top:99px"></div>
<div class="cb" style="left:52px;top:99px"></div>
<div class="cb" style="left:77px;top:99px"></div>
<div class="cb" style="left:102px;top:99px"></div>
<div class="cb" style="left:121px;top:99px"></div>
<div class="cb" style="left:138px;top:99px"></div>
<span class="c" style="left:155.6px;top:99px;letter-spacing:0.1px;">Rent</span>
<span class="c" style="left:220.5px;top:99px;letter-spacing:0.1px;">R3K</span>
<span class="c" style="left:326.62px;top:99px;letter-spacing:0.438px;">R3K</span>
<span class="c" style="left:569.0px;top:99px;letter-spacing:0.2px;">1d</span>
<span class="c" style="left:693px;width:27.6px;text-align:right;top:99px;">1</span>
<span class="c" style="left:724.0px;top:99px;letter-spacing:0.2px;">Day</span>
<span class="c" style="left:763px;width:62.6px;text-align:right;top:99px;">0.00</span>
<span class="c" style="left:828px;width:57.6px;text-align:right;top:99px;">5.00</span>
<span class="c" style="left:888px;width:65.6px;text-align:right;top:99px;">0.00</span>
<span class="c" style="left:956px;width:62.6px;text-align:right;top:99px;">0.00</span>
<span class="c" style="left:1021px;width:72.6px;text-align:right;top:99px;">0.00</span>
<div class="a" style="left:0;top:133px;width:1131px;height:1px;background:#b9702f;"></div>
<div class="cb" style="left:1px;top:118px"><svg width="12" height="12" viewBox="0 0 12 12"><path d="M3.0 5.0L4.9 5.0L5.2 7.8L9.7 2.9L10.5 3.7L5.3 10.1L3.3 10.1z" fill="#141414"/></svg></div>
<div class="cb" style="left:16px;top:118px"></div>
<div class="cb" style="left:31px;top:118px"></div>
<div class="cb" style="left:52px;top:118px"></div>
<div class="cb" style="left:77px;top:118px"></div>
<div class="cb" style="left:102px;top:118px"></div>
<div class="cb" style="left:121px;top:118px"></div>
<div class="cb" style="left:138px;top:118px"></div>
<span class="c" style="left:155.6px;top:118px;letter-spacing:0.1px;">Rent</span>
<span class="c" style="left:220.5px;top:118px;letter-spacing:0.1px;">SK318495</span>
<span class="c" style="left:326.62px;top:118px;letter-spacing:0.25px;">Folding Chairs</span>
<span class="c" style="left:569.0px;top:118px;letter-spacing:0.2px;">1d</span>
<span class="c" style="left:693px;width:27.6px;text-align:right;top:118px;">1</span>
<span class="c" style="left:724.0px;top:118px;letter-spacing:0.2px;">Day</span>
<span class="c" style="left:763px;width:62.6px;text-align:right;top:118px;">0.00</span>
<span class="c" style="left:828px;width:57.6px;text-align:right;top:118px;">5.00</span>
<span class="c" style="left:888px;width:65.6px;text-align:right;top:118px;">0.00</span>
<span class="c" style="left:956px;width:62.6px;text-align:right;top:118px;">0.00</span>
<span class="c" style="left:1021px;width:72.6px;text-align:right;top:118px;">0.00</span>
<div class="a" style="left:0;top:152px;width:1131px;height:1px;background:#b9702f;"></div>
<div class="cb" style="left:1px;top:137px"><svg width="12" height="12" viewBox="0 0 12 12"><path d="M3.0 5.0L4.9 5.0L5.2 7.8L9.7 2.9L10.5 3.7L5.3 10.1L3.3 10.1z" fill="#141414"/></svg></div>
<div class="cb" style="left:16px;top:137px"></div>
<div class="cb" style="left:31px;top:137px"></div>
<div class="cb" style="left:52px;top:137px"></div>
<div class="cb" style="left:77px;top:137px"></div>
<div class="cb" style="left:102px;top:137px"></div>
<div class="cb" style="left:121px;top:137px"></div>
<div class="cb" style="left:138px;top:137px"></div>
<span class="c" style="left:155.6px;top:137px;letter-spacing:0.1px;">Rent</span>
<span class="c" style="left:220.5px;top:137px;letter-spacing:0.1px;">SK013284</span>
<span class="c" style="left:340.67px;top:137px;transform:scaleX(0.932);transform-origin:0 0;font-weight:bold;">TD MONITOR RACKS</span>
<span class="c" style="left:327.4px;top:137px;font-weight:bold;">+</span>
<span class="c" style="left:569.0px;top:137px;letter-spacing:0.2px;">1d</span>
<span class="c" style="left:693px;width:27.6px;text-align:right;top:137px;">1</span>
<span class="c" style="left:724.0px;top:137px;letter-spacing:0.2px;">Day</span>
<span class="c" style="left:763px;width:62.6px;text-align:right;top:137px;">0.00</span>
<span class="c" style="left:828px;width:57.6px;text-align:right;top:137px;">5.00</span>
<span class="c" style="left:888px;width:65.6px;text-align:right;top:137px;">0.00</span>
<span class="c" style="left:956px;width:62.6px;text-align:right;top:137px;">0.00</span>
<span class="c" style="left:1021px;width:72.6px;text-align:right;top:137px;">0.00</span>
<div class="a" style="left:0;top:171px;width:1131px;height:1px;background:#b9702f;"></div>
<div class="cb" style="left:1px;top:156px"><svg width="12" height="12" viewBox="0 0 12 12"><path d="M3.0 5.0L4.9 5.0L5.2 7.8L9.7 2.9L10.5 3.7L5.3 10.1L3.3 10.1z" fill="#141414"/></svg></div>
<div class="cb" style="left:16px;top:156px"></div>
<div class="cb" style="left:31px;top:156px"></div>
<div class="cb" style="left:52px;top:156px"></div>
<div class="cb" style="left:77px;top:156px"></div>
<div class="cb" style="left:102px;top:156px"></div>
<div class="cb" style="left:121px;top:156px"></div>
<div class="cb" style="left:138px;top:156px"></div>
<span class="c" style="left:155.6px;top:156px;letter-spacing:0.1px;">Rent</span>
<span class="c" style="left:220.5px;top:156px;letter-spacing:0.1px;">SK013266</span>
<span class="c" style="left:340.08px;top:156px;transform:scaleX(0.9023);transform-origin:0 0;font-weight:bold;">ENGINEERING RACK</span>
<span class="c" style="left:327.4px;top:156px;font-weight:bold;">+</span>
<span class="c" style="left:569.0px;top:156px;letter-spacing:0.2px;">1d</span>
<span class="c" style="left:693px;width:27.6px;text-align:right;top:156px;">1</span>
<span class="c" style="left:724.0px;top:156px;letter-spacing:0.2px;">Day</span>
<span class="c" style="left:763px;width:62.6px;text-align:right;top:156px;">0.00</span>
<span class="c" style="left:828px;width:57.6px;text-align:right;top:156px;">5.00</span>
<span class="c" style="left:888px;width:65.6px;text-align:right;top:156px;">0.00</span>
<span class="c" style="left:956px;width:62.6px;text-align:right;top:156px;">0.00</span>
<span class="c" style="left:1021px;width:72.6px;text-align:right;top:156px;">0.00</span>
<div class="a" style="left:0;top:190px;width:1131px;height:1px;background:#b9702f;"></div>
<div class="cb" style="left:1px;top:175px"><svg width="12" height="12" viewBox="0 0 12 12"><path d="M3.0 5.0L4.9 5.0L5.2 7.8L9.7 2.9L10.5 3.7L5.3 10.1L3.3 10.1z" fill="#141414"/></svg></div>
<div class="cb" style="left:16px;top:175px"></div>
<div class="cb" style="left:31px;top:175px"></div>
<div class="cb" style="left:52px;top:175px"></div>
<div class="cb" style="left:77px;top:175px"></div>
<div class="cb" style="left:102px;top:175px"></div>
<div class="cb" style="left:121px;top:175px"></div>
<div class="cb" style="left:138px;top:175px"></div>
<span class="c" style="left:155.6px;top:175px;letter-spacing:0.1px;">SecTotal</span>
<span class="c" style="left:328.25px;top:175px;letter-spacing:-0.22px;font-weight:bold;">Section Total</span>
<span class="c" style="left:828px;width:57.6px;text-align:right;top:175px;">0.00</span>
<span class="c" style="left:1021px;width:72.6px;text-align:right;top:175px;">0.00</span>
<div class="a" style="left:0;top:209px;width:1131px;height:1px;background:#b9702f;"></div>
<div class="cb" style="left:1px;top:194px"><svg width="12" height="12" viewBox="0 0 12 12"><path d="M3.0 5.0L4.9 5.0L5.2 7.8L9.7 2.9L10.5 3.7L5.3 10.1L3.3 10.1z" fill="#141414"/></svg></div>
<div class="cb" style="left:16px;top:194px"></div>
<div class="cb" style="left:31px;top:194px"></div>
<div class="cb" style="left:52px;top:194px"></div>
<div class="cb" style="left:77px;top:194px"></div>
<div class="cb" style="left:102px;top:194px"></div>
<div class="cb" style="left:121px;top:194px"></div>
<div class="cb" style="left:138px;top:194px"></div>
<span class="c" style="left:155.6px;top:194px;letter-spacing:0.1px;">Rent</span>
<span class="c" style="left:220.5px;top:194px;letter-spacing:0.1px;">NS1</span>
<span class="c" style="left:326.62px;top:194px;letter-spacing:0.513px;">NS1</span>
<span class="c" style="left:569.0px;top:194px;letter-spacing:0.2px;">1d</span>
<span class="c" style="left:693px;width:27.6px;text-align:right;top:194px;">1</span>
<span class="c" style="left:724.0px;top:194px;letter-spacing:0.2px;">Day</span>
<span class="c" style="left:763px;width:62.6px;text-align:right;top:194px;">0.00</span>
<span class="c" style="left:828px;width:57.6px;text-align:right;top:194px;">5.00</span>
<span class="c" style="left:888px;width:65.6px;text-align:right;top:194px;">0.00</span>
<span class="c" style="left:956px;width:62.6px;text-align:right;top:194px;">0.00</span>
<span class="c" style="left:1021px;width:72.6px;text-align:right;top:194px;">0.00</span>
</div>
<div class="a" style="left:3px;top:440px;width:1137px;height:22px;box-sizing:border-box;border:2px solid #c00000;"></div>
<div class="a" style="left:6px;top:631px;width:1130px;height:16px;background:#eeeeee;box-sizing:border-box;border:1px solid #7a8a9c;box-shadow:inset 0 1px 0 #bcd2ee;"></div>
<div class="a" style="left:21px;top:647px;width:1100px;height:1px;background:#b4cce8;"></div>
<div class="a" style="left:6px;top:631px;width:15px;height:16px;box-sizing:border-box;border:0 solid #7a8a9c;border-top-width:1px;border-bottom-width:1px;background:#fff;"><div class="a" style="left:2px;top:1px;width:13px;height:13px;background:#eeeeee;"></div><svg class="a" style="left:6px;top:4px" width="5" height="8" viewBox="0 0 5 8"><path d="M4.4 0v8L0.2 4z" fill="#2c2c2c"/></svg></div>
<div class="a" style="left:1120px;top:631px;width:16px;height:16px;box-sizing:border-box;border:1px solid #7a8a9c;background:#fff;"><div class="a" style="left:1px;top:1px;width:13px;height:13px;background:#eeeeee;"></div><svg class="a" style="left:5px;top:4px" width="5" height="8" viewBox="0 0 5 8"><path d="M0.4 0v8L4.6 4z" fill="#2c2c2c"/></svg></div>
<div class="a" style="left:21px;top:631px;width:541px;height:16px;box-sizing:border-box;border:1px solid #fdc101;background:linear-gradient(#e1905a 0,#e1905a 1px,#f1c4a1 1px,#ecb48a 45%,#e8a572 85%,#e8a26d 100%);"><div class="a" style="left:267px;top:3px;width:1px;height:9px;background:#8e7f92;box-shadow:2px 0 0 #8e7f92,4px 0 0 #8e7f92,1px 1px 0 #f8d9c2,3px 1px 0 #f8d9c2,5px 1px 0 #f8d9c2;"></div></div>
<span class="t" style="left:59.89px;top:660px;letter-spacing:0.551px;color:#222;">Items</span>
<span class="t" style="left:225.22px;top:660px;letter-spacing:0.498px;color:#222;">Labor</span>
<span class="t" style="left:435.66px;top:660px;letter-spacing:0.273px;color:#222;">Subtotal</span>
<span class="t" style="left:626.33px;top:660px;letter-spacing:-1.003px;color:#222;">Tax</span>
<div class="f" style="left:113px;top:657px;width:100px;height:24px;"><span style="left:0.28px;letter-spacing:0.698px;font-weight:bold;font-size:13px;line-height:16px;top:4px;color:#2a2a2a;">194.00</span></div>
<div class="f" style="left:280px;top:657px;width:100px;height:24px;"></div>
<div class="f" style="left:518px;top:657px;width:100px;height:24px;"><span style="left:0.08px;letter-spacing:0.698px;font-weight:bold;font-size:13px;line-height:16px;top:4px;color:#2a2a2a;">194.00</span></div>
<div class="f" style="left:663px;top:657px;width:100px;height:24px;"></div>
<div class="a" style="left:806px;top:657px;width:89px;height:23px;box-sizing:border-box;border:1px solid #c8c8c8;background:#fff;"></div>
<span class="t b" style="left:835.85px;top:663px;letter-spacing:0.328px;color:#222;font-size:13px;line-height:16px;">Total</span>
<div class="f" style="left:899px;top:657px;width:100px;height:24px;"><span style="left:0.58px;letter-spacing:0.598px;font-weight:bold;font-size:13px;line-height:16px;top:4px;color:#000;">194.00</span></div>
<div class="a" style="left:1px;top:691px;width:1143px;height:1px;background:#c4c4c4;"></div>
<div class="a" style="left:1px;top:691px;width:1px;height:25px;background:#c8c0b8;"></div>
<div class="a" style="left:2px;top:692px;width:1141px;height:23px;box-sizing:border-box;border:1px solid #808080;border-right-color:#c8c8c8;border-bottom-color:#c8c8c8;background:#fff;"></div>
<div class="a" style="left:0;top:0;width:1145px;height:717px;box-sizing:border-box;border:1px solid #0b79d6;pointer-events:none;"></div>
<div class="a" style="left:0;top:498px;width:1145px;height:41px;box-sizing:border-box;border:2px solid #584083;"></div>
</div>
</body></html>
